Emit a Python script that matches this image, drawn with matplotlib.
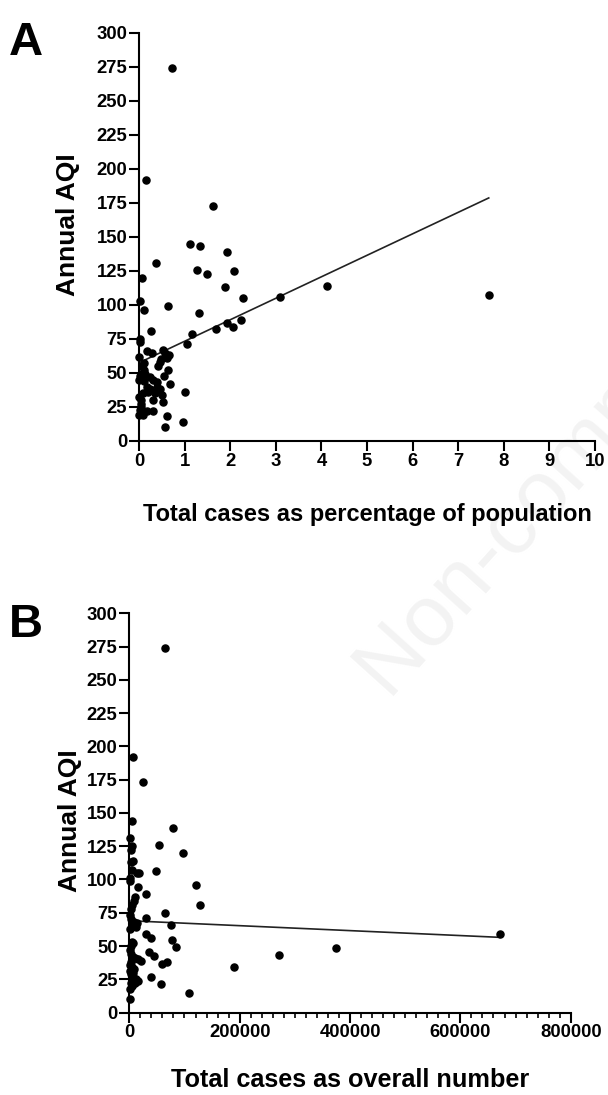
import matplotlib
matplotlib.use("Agg")
import matplotlib.pyplot as plt
from matplotlib.ticker import MultipleLocator
import numpy as np

plt.rcParams['font.family'] = ['Liberation Sans', 'DejaVu Sans']
plt.rcParams['font.weight'] = 'bold'

# panel A: total cases as % of population vs annual AQI
a_pct = [0.72, 0.15, 1.62, 7.67, 4.12, 3.10,
         0.06, 0.38, 1.11, 1.33, 1.28, 1.50, 1.93, 2.08, 1.89, 2.28,
         0.02, 0.12, 0.64, 1.31, 0.27, 1.16, 1.68, 1.92, 2.06, 2.24, 1.05,
         0.03, 0.02, 0.01, 0.17, 0.28, 0.53, 0.58, 0.66, 0.62, 0.46, 0.42, 0.64, 0.54, 0.68,
         0.07, 0.11, 0.03, 0.00, 0.14, 0.09, 0.31, 0.18, 0.24, 0.39, 0.46, 0.35, 0.50, 1.01,
         0.00, 0.05, 0.53, 0.04, 0.01, 0.18, 0.31, 0.62, 0.57, 0.96, 0.08, 0.05, 0.02,
         0.25, 0.40, 0.12, 0.48, 0.08, 0.20, 0.30, 0.10]
a_aqi = [274, 192, 173, 107, 114, 106,
         120, 131, 145, 143, 126, 123, 139, 125, 113, 105,
         103, 96, 99, 94, 81, 79, 82, 87, 84, 89, 71,
         75, 73, 62, 66, 65, 67, 65, 63, 61, 58, 55, 52, 48, 42,
         55, 52, 48, 45, 49, 50, 45, 40, 38, 40, 38, 35, 34, 36,
         32, 30, 29, 25, 19, 22, 22, 18, 10, 14, 19, 27, 23,
         47, 43, 57, 60, 35, 36, 30, 44]
a_fit = (15.8, 57.5)   # slope, intercept

# panel B: total cases as overall number vs annual AQI
b_cases = [64600, 6200, 25300, 80000, 4900, 53300, 96500, 49100, 120000, 128000,
           64000, 76400, 30400, 30400, 16500, 17000, 14000, 30400, 40000, 77600,
           84900, 36400, 44300, 21800, 59500, 68500, 40000, 57100, 108500, 190000,
           271000, 374000, 671600, 1800,
           1800, 4900, 3000, 6100, 3500, 4000, 2000, 1500, 11000, 8000,
           4000, 2500, 1500, 3000, 9000, 14000, 5000, 12000, 2000, 4000,
           2500, 6000, 1000, 3000, 7000, 10000, 15000, 2000, 5000, 9000,
           1500, 3000, 6000, 12000, 15000, 8000, 3000, 5000, 10000, 1000,
           7000, 2500]
b_aqi = [274, 192, 173, 139, 144, 126, 120, 106, 96, 81,
         75, 66, 71, 89, 94, 104.5, 105, 59, 56, 54.5,
         49.4, 45.6, 42.6, 39, 36.4, 37.7, 26.4, 21.4, 14.5, 34.3,
         43.5, 48.4, 59, 10.5,
         131, 125, 122, 114, 113, 107, 101, 99, 87, 84,
         80.6, 78, 73, 70, 68, 67, 65.8, 64, 63, 53,
         50, 52, 47, 44, 42, 41, 40, 36, 34, 33,
         31, 29, 27, 25, 24, 23, 22, 20, 22, 18,
         30, 38]
b_fit = (-1.86e-5, 69.0)

fig = plt.figure(figsize=(6.08, 10.95), dpi=100)

# faint watermark behind everything
fig.text(0.565, 0.365, 'Non-commercial use only', fontsize=62, color='#f3f3f3',
         rotation=48, ha='left', va='baseline', fontweight='normal', zorder=-5)

axA = fig.add_axes([0.2286, 0.5973, 0.75, 0.3726])
axB = fig.add_axes([0.2127, 0.0753, 0.726, 0.3646])


def style_axes(ax):
    ax.patch.set_alpha(0)
    for s in ('top', 'right'):
        ax.spines[s].set_visible(False)
    for s in ('left', 'bottom'):
        ax.spines[s].set_linewidth(1.5)
    ax.tick_params(which='major', length=7, width=1.5, labelsize=13.3, pad=1.5)
    ax.tick_params(which='minor', length=3.5, width=1.2)
    ax.set_ylim(0, 300)
    ax.yaxis.set_major_locator(MultipleLocator(25))


# A
axA.scatter(a_pct, a_aqi, s=26, color='black', zorder=3, clip_on=False)
xs = np.array([0, max(a_pct)])
axA.plot(xs, a_fit[0] * xs + a_fit[1], color='#222222', lw=1.2)
style_axes(axA)
axA.set_xlim(0, 10)
axA.xaxis.set_major_locator(MultipleLocator(1))
axA.set_ylabel('Annual AQI', fontsize=19, fontweight='bold', va='center')
axA.yaxis.set_label_coords(-0.156, 0.53)
axA.set_xlabel('Total cases as percentage of population', fontsize=17,
               fontweight='bold', va='center')
axA.xaxis.set_label_coords(0.502, -0.181)
fig.text(0.015, 0.95, 'A', fontsize=34, fontweight='bold')

# B
axB.scatter(b_cases, b_aqi, s=26, color='black', zorder=3, clip_on=False)
xs = np.array([0, max(b_cases)])
axB.plot(xs, b_fit[0] * xs + b_fit[1], color='#222222', lw=1.2)
style_axes(axB)
axB.set_xlim(0, 800000)
axB.xaxis.set_major_locator(MultipleLocator(200000))
axB.xaxis.set_minor_locator(MultipleLocator(20000))
axB.set_ylabel('Annual AQI', fontsize=19, fontweight='bold', va='center')
axB.yaxis.set_label_coords(-0.134, 0.48)
axB.set_xlabel('Total cases as overall number', fontsize=18.2,
               fontweight='bold', va='center')
axB.xaxis.set_label_coords(0.5, -0.168)
fig.text(0.015, 0.418, 'B', fontsize=34, fontweight='bold')

fig.savefig('out.png', dpi=100)
